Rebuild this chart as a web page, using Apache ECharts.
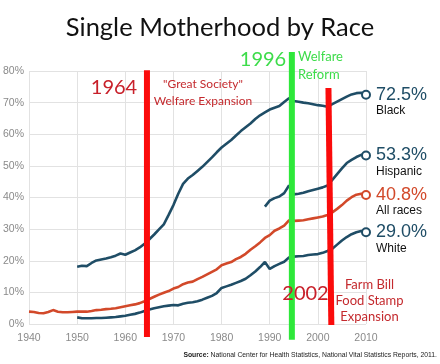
<!DOCTYPE html>
<html>
<head>
<meta charset="utf-8">
<script src="https://cdn.jsdelivr.net/npm/echarts@6/dist/echarts.min.js"></script>
<style>html,body{margin:0;padding:0;background:#fff;}#c{width:440px;height:364px;}</style>
</head>
<body>
<div id="c"></div>
<script>
// ---- data ----
const xTicks = [1940, 1950, 1960, 1970, 1980, 1990, 2000, 2010];
const yTicks = [0, 10, 20, 30, 40, 50, 60, 70, 80];

const allRacesStart = 1940;
const allRaces = [3.9, 3.8, 3.5, 3.4, 3.8, 4.4, 3.9, 3.7, 3.7, 3.8,
  3.9, 3.9, 3.9, 4.1, 4.4, 4.5, 4.7, 4.8, 5.0, 5.3,
  5.6, 5.9, 6.2, 6.6, 7.2, 7.9, 8.6, 9.3, 9.9, 10.4,
  11.2, 11.7, 12.6, 13.1, 13.4, 14.2, 14.9, 15.7, 16.5, 17.3,
  18.6, 19.1, 19.6, 20.5, 21.2, 22.2, 23.5, 24.6, 25.8, 27.2,
  28.1, 29.5, 30.2, 31.1, 32.8, 32.6, 32.7, 32.8, 33.1, 33.4,
  33.7, 34.0, 34.5, 35.3, 36.4, 37.6, 39.0, 40.1, 40.9, 41.2,
  40.8];

const whiteStart = 1950;
const white = [2.1, 1.8, 1.8, 1.8, 1.9, 1.9, 2.0, 2.1, 2.2, 2.4,
  2.6, 2.9, 3.2, 3.6, 4.1, 4.6, 5.0, 5.3, 5.6, 5.8,
  6.0, 5.9, 6.4, 6.7, 6.9, 7.2, 7.7, 8.3, 8.9, 9.8,
  11.4, 11.9, 12.4, 13.0, 13.6, 14.3, 15.4, 16.6, 18.0, 19.6,
  17.4, 18.3, 19.0, 19.7, 21.0, 21.3, 21.4, 21.5, 21.8, 22.0,
  22.1, 22.5, 23.1, 23.8, 25.1, 26.4, 27.5, 28.4, 29.0, 29.4,
  29.0];

const blackStart = 1950;
const black = [18.1, 18.4, 18.3, 19.3, 20.1, 20.4, 20.7, 21.1, 21.6, 22.3,
  21.9, 22.6, 23.3, 24.2, 25.4, 26.8, 28.3, 29.9, 31.5, 34.5,
  37.6, 41.2, 44.3, 46.0, 47.1, 48.4, 49.7, 51.2, 52.7, 54.3,
  55.8, 57.0, 58.2, 59.6, 61.0, 62.2, 63.4, 64.8, 66.0, 66.9,
  67.8, 68.4, 68.9, 70.2, 71.4, 70.5, 70.3, 70.0, 69.8, 69.5,
  69.2, 69.0, 68.7, 69.5, 70.3, 71.1, 71.9, 72.6, 73.0, 73.1,
  72.5];

const hispanicStart = 1989;
const hispanic = [37.1, 39.0, 39.8, 40.3, 41.4, 43.8, 41.0, 41.2, 41.5, 42.0,
  42.4, 42.8, 43.2, 43.8, 45.6, 47.4, 49.2, 50.9, 51.9, 52.8,
  53.5, 53.3];

const endNames = ['Black', 'Hispanic', 'All races', 'White'];
const endValues = [72.5, 53.3, 40.8, 29.0];
const endYear = 2010;

// event bars (years and vertical extent in data units)
const barTopYears = [1964.5, 1994.6, 2002.2];
const barBottomYears = [1964.5, 1994.6, 2002.8];
const barTops = [80.2, 86.0, 74.6];
const barBottoms = [-4.1, -5.0, -0.3];

// ---- helpers ----
function pairs(start, arr) { return arr.map((v, i) => [start + i, v]); }

const BLUE = '#1f4d66';
const ORANGE = '#d2492a';
const endColors = [BLUE, BLUE, ORANGE, BLUE];
const barColors = ['#fb0b0b', '#2ee83a', '#fb0b0b'];

const lineBase = {
  type: 'line', showSymbol: false, symbol: 'none', smooth: false,
  animation: false, z: 2
};

const series = [
  Object.assign({}, lineBase, { name: 'All races', data: pairs(allRacesStart, allRaces), lineStyle: { color: ORANGE, width: 2.6 } }),
  Object.assign({}, lineBase, { name: 'White', data: pairs(whiteStart, white), lineStyle: { color: BLUE, width: 2.6 } }),
  Object.assign({}, lineBase, { name: 'Black', data: pairs(blackStart, black), lineStyle: { color: BLUE, width: 2.6 } }),
  Object.assign({}, lineBase, { name: 'Hispanic', data: pairs(hispanicStart, hispanic), lineStyle: { color: BLUE, width: 2.6 } }),
  {
    type: 'scatter', animation: false, z: 4,
    symbol: 'circle', symbolSize: 8,
    itemStyle: { opacity: 1 },
    data: endValues.map((v, i) => ({
      value: [endYear, v],
      itemStyle: { color: '#ffffff', borderColor: endColors[i], borderWidth: 2, opacity: 1 },
      label: {
        show: true, position: 'right', distance: 5, offset: [0, 7],
        formatter: '{v|' + v.toFixed(1) + '%}\n{n|' + endNames[i] + '}',
        rich: {
          v: { fontFamily: 'Liberation Sans', fontSize: 18, lineHeight: 18, color: endColors[i], opacity: 1 },
          n: { fontFamily: 'Liberation Sans', fontSize: 12, lineHeight: 14, color: '#111' }
        }
      }
    }))
  }
];

barTopYears.forEach((yr, i) => {
  series.push({
    type: 'line', animation: false, clip: false, symbol: 'none', showSymbol: false, z: 5,
    data: [[yr, barTops[i]], [barBottomYears[i], barBottoms[i]]],
    lineStyle: { color: barColors[i], width: 6, cap: 'butt' }
  });
});

const chart = echarts.init(document.getElementById('c'), null, { renderer: 'canvas' });

const axisLabelStyle = { color: '#8a8a8a', fontFamily: 'Liberation Sans', fontSize: 10.5 };
const splitStyle = { show: true, lineStyle: { color: '#e2e2e2', width: 1 } };

chart.setOption({
  animation: false,
  backgroundColor: '#fff',
  grid: { left: 28, right: 74, top: 71, bottom: 40 },
  xAxis: {
    type: 'value', min: xTicks[0], max: xTicks[xTicks.length - 1], interval: 10,
    axisLine: { show: false }, axisTick: { show: false },
    axisLabel: Object.assign({ margin: 9, formatter: v => String(v) }, axisLabelStyle),
    splitLine: splitStyle
  },
  yAxis: {
    type: 'value', min: yTicks[0], max: yTicks[yTicks.length - 1], interval: 10,
    axisLine: { show: false }, axisTick: { show: false },
    axisLabel: Object.assign({ margin: 5, formatter: '{value}%' }, axisLabelStyle),
    splitLine: splitStyle
  },
  series: series,
  graphic: [
    { type: 'text', x: 220, y: 28, z: 10, style: { text: 'Single Motherhood by Race', fontFamily: 'Lato', fontSize: 25.5, fill: '#111', align: 'center', verticalAlign: 'middle' } },
    { type: 'text', x: 114, y: 88, z: 10, style: { text: '1964', fontFamily: 'Lato', fontSize: 20, fill: '#c8202a', align: 'center', verticalAlign: 'middle' } },
    { type: 'text', x: 203, y: 92.5, z: 10, style: { text: '"Great Society"\nWelfare Expansion', fontFamily: 'Lato', fontSize: 12, lineHeight: 16.5, fill: '#c42a2e', align: 'center', verticalAlign: 'middle' } },
    { type: 'text', x: 263, y: 60, z: 10, style: { text: '1996', fontFamily: 'Lato', fontSize: 20, fill: '#3ddc4a', align: 'center', verticalAlign: 'middle' } },
    { type: 'text', x: 298, y: 66, z: 10, style: { text: 'Welfare\nReform', fontFamily: 'Lato', fontSize: 13, lineHeight: 18, fill: '#3ddc4a', align: 'left', verticalAlign: 'middle' } },
    { type: 'text', x: 305.5, y: 294, z: 10, style: { text: '2002', fontFamily: 'Lato', fontSize: 20, fill: '#c8202a', align: 'center', verticalAlign: 'middle' } },
    { type: 'text', x: 369.5, y: 301, z: 10, style: { text: 'Farm Bill\nFood Stamp\nExpansion', fontFamily: 'Lato', fontSize: 13, lineHeight: 16, fill: '#c42a2e', align: 'center', verticalAlign: 'middle' } },
    { type: 'text', x: 437, y: 355, z: 10, style: { text: '{b|Source:} National Center for Health Statistics, National Vital Statistics Reports, 2011.', fontFamily: 'Liberation Sans', fontSize: 6.8, fill: '#222', align: 'right', verticalAlign: 'middle', rich: { b: { fontWeight: 'bold', fontFamily: 'Liberation Sans', fontSize: 6.8, fill: '#222' } } } }
  ]
});
</script>
</body>
</html>
